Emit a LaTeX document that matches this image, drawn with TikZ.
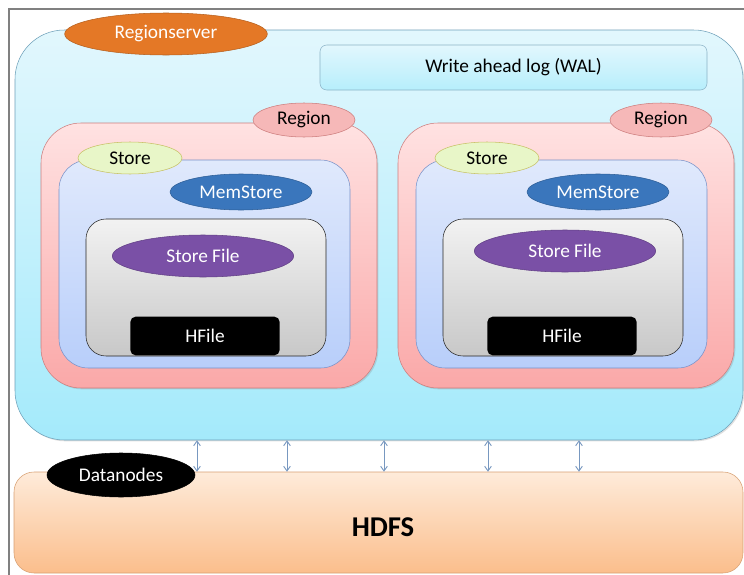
\documentclass[tikz,border=0pt]{standalone}
\usepackage{fontspec}
\setmainfont{Carlito}
\usepackage{xcolor}
\usetikzlibrary{shapes.geometric,fit,shadows,arrows.meta}

\definecolor{rstop}{RGB}{226,247,253}
\definecolor{rsbot}{RGB}{164,234,251}
\definecolor{rsline}{RGB}{110,160,185}
\definecolor{regtop}{RGB}{255,226,226}
\definecolor{regbot}{RGB}{250,168,168}
\definecolor{regline}{RGB}{205,125,125}
\definecolor{sttop}{RGB}{224,233,252}
\definecolor{stbot}{RGB}{184,206,250}
\definecolor{stline}{RGB}{120,145,200}
\definecolor{sftop}{RGB}{242,242,242}
\definecolor{sfbot}{RGB}{200,200,200}
\definecolor{hdtop}{RGB}{254,235,218}
\definecolor{hdbot}{RGB}{251,190,140}
\definecolor{hdline}{RGB}{215,160,115}
\definecolor{rsorange}{RGB}{228,120,38}
\definecolor{regpink}{RGB}{246,184,184}
\definecolor{stgreen}{RGB}{232,246,200}
\definecolor{memblue}{RGB}{58,118,188}
\definecolor{sfpurple}{RGB}{122,80,166}
\definecolor{linkblue}{RGB}{120,152,192}

\begin{document}
\begin{tikzpicture}[x=0.75pt, y=-0.75pt,
  every node/.style={font=\fontsize{14.5}{17}\selectfont},
  box/.style={rectangle, draw, inner sep=0pt},
  tag/.style={ellipse, draw, inner sep=0pt, text=white},
  link/.style={{Straight Barb[length=3.5pt,width=5pt]}-{Straight Barb[length=3.5pt,width=5pt]}, draw=linkblue, line width=0.7pt}]
\useasboundingbox (0,0) rectangle (744,575);
\draw[gray, line width=0.8pt] (744,9) -- (9,9) -- (9,575);

% regionserver and hdfs
\node[box, fit={(15,30) (743,440)}, rounded corners=37pt, draw=rsline, top color=rstop, bottom color=rsbot,
  drop shadow={opacity=0.25, shadow xshift=1pt, shadow yshift=-1pt}] (RS) {};
\node[box, fit={(14,472) (743,573)}, rounded corners=15pt, draw=hdline, top color=hdtop, bottom color=hdbot] (HDFS) {};
\node at (383,527) {\fontsize{21.5}{25}\selectfont\bfseries HDFS};
\node[box, fit={(320,45) (707,90)}, rounded corners=5pt, draw=rsline!80, top color=rstop, bottom color=rsbot!80] (WAL) {};
\node at (WAL) {Write ahead log (WAL)};

% two regions
\foreach \dx/\sfy/\sfx/\n in {0/256/203/L, 357/251/565/R} {
  \node[box, fit={(41+\dx,123) (377+\dx,388)}, rounded corners=30pt, draw=regline, top color=regtop, bottom color=regbot,
    drop shadow={opacity=0.25, shadow xshift=1pt, shadow yshift=-1pt}] (reg\n) {};
  \node[box, fit={(59+\dx,160) (350+\dx,368)}, rounded corners=22pt, draw=stline, top color=sttop, bottom color=stbot] (st\n) {};
  \node[box, fit={(86+\dx,219) (326+\dx,356)}, rounded corners=15pt, draw=black!85, top color=sftop, bottom color=sfbot] (sf\n) {};
  \node[tag, draw=regline, fill=regpink, text=black, minimum width=76.5pt, minimum height=25.5pt] (regtag\n) at (304+\dx,120) {Region};
  \node[tag, draw=olive!50, fill=stgreen, text=black, minimum width=78pt, minimum height=24pt] (sttag\n) at (130+\dx,158) {Store};
  \node[tag, draw=memblue!80!black, fill=memblue, minimum width=106.5pt, minimum height=27pt] (mem\n) at (241+\dx,192) {MemStore};
  \node[tag, draw=sfpurple!80!black, fill=sfpurple, minimum width=136pt, minimum height=31.5pt] (sftag\n) at (\sfx,\sfy) {Store File};
  \node[rectangle, rounded corners=4pt, fill=black, text=white, minimum width=112pt, minimum height=29pt] (hf\n) at (205+\dx,336) {HFile};
}

\node[tag, draw=rsorange!80!black, fill=rsorange, minimum width=152pt, minimum height=31.5pt] (rstag) at (166,34) {Regionserver};
\node[tag, fill=black, minimum width=111pt, minimum height=33pt] (dn) at (121,475) {Datanodes};

% links to hdfs
\foreach \x in {197,287,384,488,579}
  \draw[link] (RS.south -| \x,0) -- (HDFS.north -| \x,0);
\end{tikzpicture}
\end{document}
